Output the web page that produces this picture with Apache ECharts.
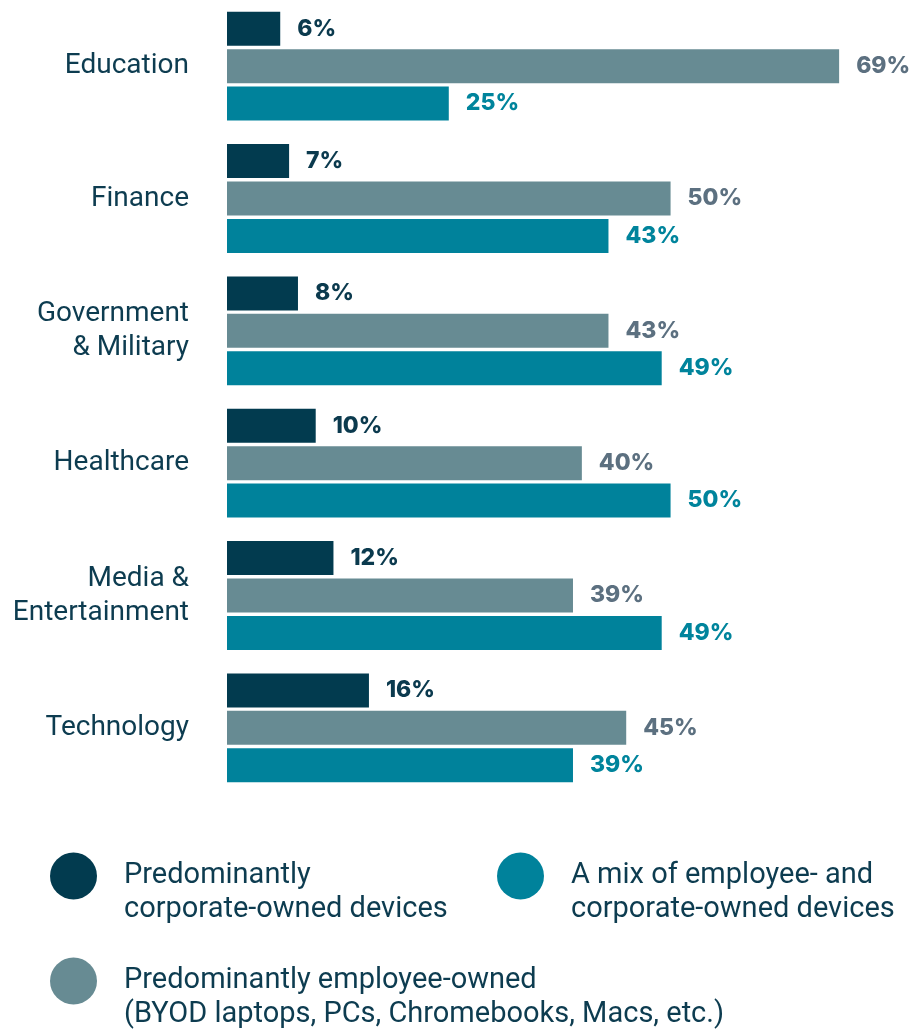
<!DOCTYPE html>
<html>
<head>
<meta charset="utf-8">
<script src="https://cdn.jsdelivr.net/npm/echarts@6/dist/echarts.min.js"></script>
<style>
html,body{margin:0;padding:0;background:#fff;}
#main{width:911px;height:1031px;}
</style>
</head>
<body>
<div id="main"></div>
<script>
const categories = ['Education', 'Finance', 'Government\n& Military', 'Healthcare', 'Media &\nEntertainment', 'Technology'];
const corporateOwned = [6, 7, 8, 10, 12, 16];
const employeeOwned = [69, 50, 43, 40, 39, 45];
const mixOwned = [25, 43, 49, 50, 49, 39];

const legendTexts = {
  corporate: 'Predominantly\ncorporate-owned devices',
  mix: 'A mix of employee- and\ncorporate-owned devices',
  employee: 'Predominantly employee-owned\n(BYOD laptops, PCs, Chromebooks, Macs, etc.)'
};

const barColors = { corporate: '#023b4f', employee: '#678b93', mix: '#00829b' };
const labelColors = { corporate: '#0b3a4e', employee: '#5c7080', mix: '#00849c' };
const textColor = '#0d3c50';

const chart = echarts.init(document.getElementById('main'));

function makeSeries(name, data) {
  return {
    name: name,
    type: 'bar',
    data: data,
    barWidth: 34,
    barGap: '10%',
    itemStyle: { color: barColors[name] },
    label: {
      show: true,
      position: 'right',
      distance: 17,
      formatter: '{c}%',
      fontFamily: 'Inter',
      fontWeight: 800,
      fontSize: 23,
      color: labelColors[name]
    }
  };
}

function makeLegend(name, left, top) {
  return {
    data: [name],
    left: left,
    top: top,
    padding: 0,
    icon: 'circle',
    itemWidth: 47,
    itemHeight: 47,
    selectedMode: false,
    formatter: function (n) { return '\n' + legendTexts[n]; },
    textStyle: {
      fontFamily: 'Roboto',
      fontSize: 29,
      lineHeight: 34,
      color: textColor,
      padding: [6, 0, 0, 22]
    }
  };
}

chart.setOption({
  animation: false,
  backgroundColor: '#ffffff',
  grid: { left: 227, right: 63, top: 0, bottom: 237, containLabel: false },
  xAxis: {
    type: 'value',
    min: 0,
    max: 70,
    show: false
  },
  yAxis: {
    type: 'category',
    data: categories,
    inverse: true,
    axisLine: { show: false },
    axisTick: { show: false },
    splitLine: { show: false },
    axisLabel: {
      margin: 38,
      fontFamily: 'Roboto',
      fontSize: 28,
      lineHeight: 34,
      color: textColor,
      align: 'right'
    }
  },
  legend: [
    makeLegend('corporate', 50, 822),
    makeLegend('mix', 497, 822),
    makeLegend('employee', 50, 927)
  ],
  series: [
    makeSeries('corporate', corporateOwned),
    makeSeries('employee', employeeOwned),
    makeSeries('mix', mixOwned)
  ]
});
</script>
</body>
</html>
